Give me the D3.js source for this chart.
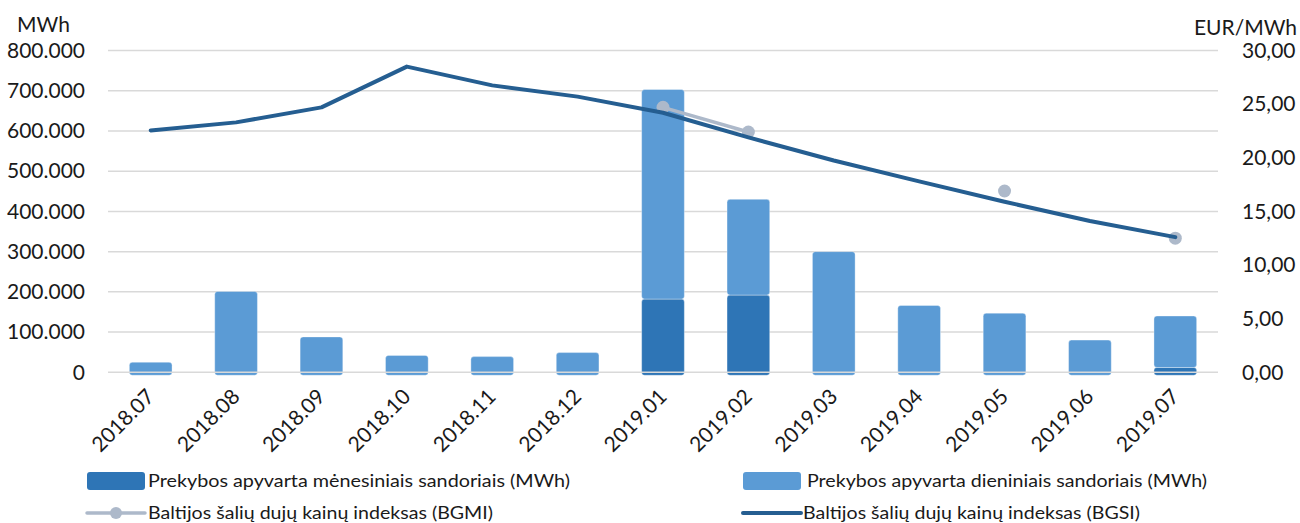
<!DOCTYPE html>
<html>
<head>
<meta charset="utf-8">
<script src="https://cdn.jsdelivr.net/npm/d3@7"></script>
<style>
  body { margin: 0; background: #fff; }
  svg text { font-family: Lato, "Open Sans", sans-serif; fill: #1a1a1a; }
</style>
</head>
<body>
<div id="chart"></div>
<script>
// data
const months = ["2018.07","2018.08","2018.09","2018.10","2018.11","2018.12",
    "2019.01","2019.02","2019.03","2019.04","2019.05","2019.06","2019.07"];
const monthlyMWh = [0, 0, 0, 0, 0, 0, 182000, 192000, 0, 0, 0, 0, 12000];
const dailyMWh = [25000, 201000, 88000, 42000, 39000, 49000, 521000, 238000, 300000, 166000, 147000, 80000, 128000];
const bgsi = [22.55, 23.3, 24.7, 28.5, 26.75, 25.7, 24.2, 21.9, 19.75, 17.8, 15.9, 14.1, 12.6];
const bgmi = [null, null, null, null, null, null, 24.7, 22.4, null, null, 16.9, null, 12.5];
const leftTicks = [0, 100000, 200000, 300000, 400000, 500000, 600000, 700000, 800000];
const rightTicks = [0, 5, 10, 15, 20, 25, 30];

const legendItems = [
    {label: "Prekybos apyvarta mėnesiniais sandoriais (MWh)", type: "rect", color: "#2E75B6"},
    {label: "Prekybos apyvarta dieniniais sandoriais (MWh)", type: "rect", color: "#5B9BD5"},
    {label: "Baltijos šalių dujų kainų indeksas (BGMI)", type: "marker", color: "#ADB9CA"},
    {label: "Baltijos šalių dujų kainų indeksas (BGSI)", type: "line", color: "#255E91"}
];

const width = 1300, height = 523;
const plot = {left: 108, right: 1218, top: 50.5, bottom: 372.3};

const locale = d3.formatLocale({decimal: ",", thousands: ".", grouping: [3], currency: ["", ""]});
const fmtLeft = locale.format(",");
const fmtRight = locale.format(",.2f");

const svg = d3.select("#chart").append("svg")
    .attr("width", width)
    .attr("height", height);

const x = d3.scaleBand()
    .domain(months)
    .range([plot.left, plot.right])
    .paddingInner(0.5)
    .paddingOuter(0.25);

const yLeft = d3.scaleLinear().domain([0, 800000]).range([plot.bottom, plot.top]);
const yRight = d3.scaleLinear().domain([0, 30]).range([plot.bottom, plot.top]);

// gridlines
svg.append("g")
    .selectAll("line")
    .data(leftTicks.slice(1))
    .enter()
    .append("line")
    .attr("x1", plot.left)
    .attr("x2", plot.right)
    .attr("y1", d => yLeft(d))
    .attr("y2", d => yLeft(d))
    .attr("stroke", "#d9d9d9")
    .attr("stroke-width", 1.5);

// left axis
const leftAxis = svg.append("g")
    .attr("transform", `translate(${plot.left},0)`)
    .call(d3.axisLeft(yLeft).tickValues(leftTicks).tickFormat(fmtLeft).tickSize(0).tickPadding(23));
leftAxis.select(".domain").remove();
leftAxis.selectAll("text").attr("font-size", 21).attr("font-family", "Lato");

// right axis
const rightAxis = svg.append("g")
    .attr("transform", `translate(${plot.right},0)`)
    .call(d3.axisRight(yRight).tickValues(rightTicks).tickFormat(fmtRight).tickSize(0).tickPadding(24));
rightAxis.select(".domain").remove();
rightAxis.selectAll("text").attr("font-size", 21).attr("font-family", "Lato");

// axis titles
svg.append("text").attr("x", 17).attr("y", 32).attr("font-size", 21).text("MWh");
svg.append("text").attr("x", 1297).attr("y", 35).attr("font-size", 21)
    .attr("text-anchor", "end").text("EUR/MWh");

// stacked bars
const stackData = months.map((m, i) => ({month: m, monthly: monthlyMWh[i], daily: dailyMWh[i]}));
const series = d3.stack().keys(["monthly", "daily"])(stackData);
const barColors = {monthly: "#2E75B6", daily: "#5B9BD5"};

svg.append("g")
    .selectAll("g")
    .data(series)
    .enter()
    .append("g")
    .attr("fill", d => barColors[d.key])
    .selectAll("rect")
    .data(d => d.filter(p => p[1] - p[0] > 0))
    .enter()
    .append("rect")
    .attr("x", d => x(d.data.month))
    .attr("width", x.bandwidth())
    .attr("y", d => yLeft(d[1]))
    .attr("height", d => yLeft(d[0]) - yLeft(d[1]) + (d[0] === 0 ? 3 : 0))
    .attr("rx", 3)
    .attr("stroke", "#ffffff")
    .attr("stroke-opacity", 0.35)
    .attr("stroke-width", 1);

// zero line over the bars
svg.append("line")
    .attr("x1", plot.left)
    .attr("x2", plot.right)
    .attr("y1", yLeft(0))
    .attr("y2", yLeft(0))
    .attr("stroke", "#d9d9d9")
    .attr("stroke-width", 1.5);

// BGMI line + markers
const lineGen = d3.line()
    .defined(d => d.v !== null)
    .x(d => x(d.m) + x.bandwidth() / 2)
    .y(d => yRight(d.v));

const bgmiData = months.map((m, i) => ({m: m, v: bgmi[i]}));
svg.append("path")
    .datum(bgmiData)
    .attr("fill", "none")
    .attr("stroke", "#ADB9CA")
    .attr("stroke-width", 3.5)
    .attr("d", lineGen);
svg.append("g")
    .selectAll("circle")
    .data(bgmiData.filter(d => d.v !== null))
    .enter()
    .append("circle")
    .attr("cx", d => x(d.m) + x.bandwidth() / 2)
    .attr("cy", d => yRight(d.v))
    .attr("r", 6.5)
    .attr("fill", "#ADB9CA");

// BGSI line
const bgsiData = months.map((m, i) => ({m: m, v: bgsi[i]}));
svg.append("path")
    .datum(bgsiData)
    .attr("fill", "none")
    .attr("stroke", "#255E91")
    .attr("stroke-width", 4)
    .attr("stroke-linejoin", "round")
    .attr("stroke-linecap", "round")
    .attr("d", lineGen);

// x labels
svg.append("g")
    .selectAll("text")
    .data(months)
    .enter()
    .append("text")
    .attr("transform", d => `translate(${x(d) + x.bandwidth() / 2 + 5},398) rotate(-45)`)
    .attr("text-anchor", "end")
    .attr("font-size", 21)
    .text(d => d);

// legend
const legendPos = [
    {x: 87, y: 481, tx: 61, tw: 422}, {x: 743, y: 481, tx: 64, tw: 400},
    {x: 87, y: 513, tx: 61, tw: 345}, {x: 743, y: 513, tx: 60, tw: 337}
];
const legend = svg.append("g")
    .selectAll("g")
    .data(legendItems)
    .enter()
    .append("g")
    .attr("transform", (d, i) => `translate(${legendPos[i].x},${legendPos[i].y})`);

legend.filter(d => d.type === "rect")
    .append("rect")
    .attr("x", 0).attr("y", -9)
    .attr("width", 58).attr("height", 18)
    .attr("rx", 3)
    .attr("fill", d => d.color);

legend.filter(d => d.type !== "rect")
    .append("line")
    .attr("x1", 0).attr("x2", 58)
    .attr("stroke", d => d.color)
    .attr("stroke-width", d => d.type === "line" ? 4 : 3.5)
    .attr("stroke-linecap", "round");

legend.filter(d => d.type === "marker")
    .append("circle")
    .attr("cx", 29)
    .attr("r", 6)
    .attr("fill", d => d.color);

legend.append("text")
    .attr("x", (d, i) => legendPos[i].tx)
    .attr("y", 6)
    .attr("font-size", 18)
    .attr("textLength", (d, i) => legendPos[i].tw)
    .attr("lengthAdjust", "spacingAndGlyphs")
    .text(d => d.label);
</script>
</body>
</html>
